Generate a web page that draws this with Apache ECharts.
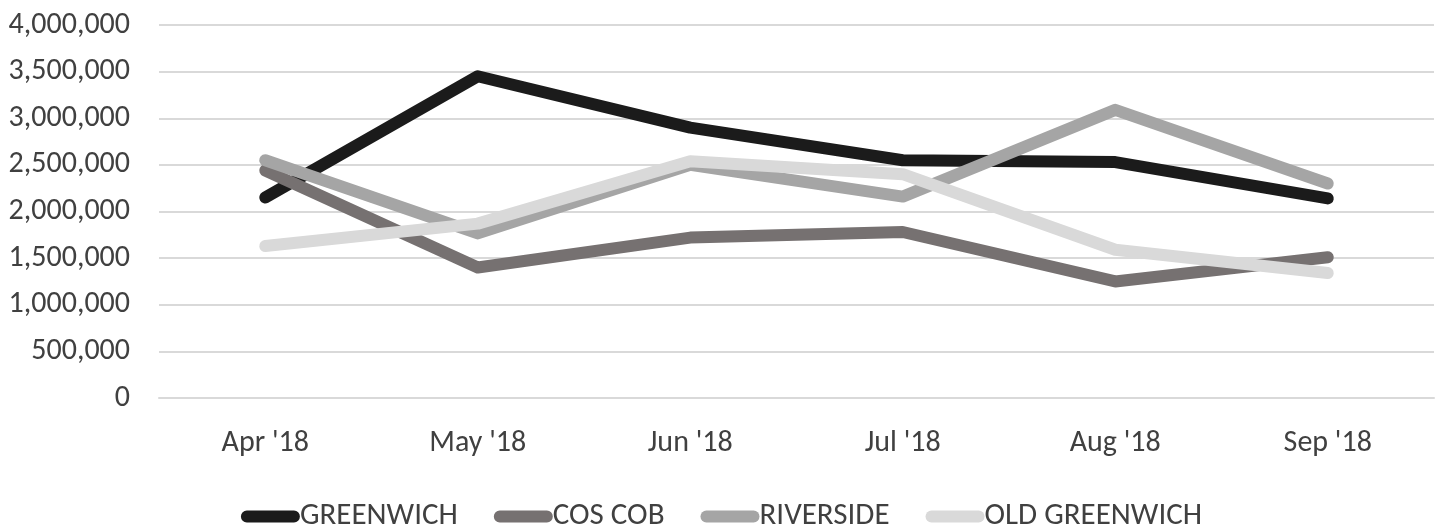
<!DOCTYPE html>
<html>
<head>
<meta charset="utf-8">
<script src="https://cdn.jsdelivr.net/npm/echarts@6/dist/echarts.min.js"></script>
<style>
html,body{margin:0;padding:0;background:#fff;}
#chart{width:1443px;height:529px;}
</style>
</head>
<body>
<div id="chart"></div>
<script>
const categories = ["Apr '18", "May '18", "Jun '18", "Jul '18", "Aug '18", "Sep '18"];
const seriesNames = ["GREENWICH", "COS COB", "RIVERSIDE", "OLD GREENWICH"];
const greenwich = [2150000, 3450000, 2900000, 2550000, 2530000, 2140000];
const cosCob = [2440000, 1400000, 1720000, 1780000, 1250000, 1510000];
const riverside = [2550000, 1765000, 2500000, 2160000, 3090000, 2300000];
const oldGreenwich = [1630000, 1870000, 2540000, 2400000, 1590000, 1340000];
const colors = ["#1b1b1b", "#767171", "#a5a5a5", "#d9d9d9"];

const fontFamily = "Carlito, 'Liberation Sans Narrow', 'Open Sans', sans-serif";
const textColor = "#404040";
const allData = [greenwich, cosCob, riverside, oldGreenwich];

const chart = echarts.init(document.getElementById('chart'));
chart.setOption({
  animation: false,
  backgroundColor: '#ffffff',
  textStyle: { fontFamily: fontFamily },
  grid: { left: 159, right: 9, top: 25, bottom: 131, containLabel: false },
  legend: {
    top: 496,
    left: 'center',
    icon: 'path://M6,0 L54,0 A6,6 0 0 1 54,12 L6,12 A6,6 0 0 1 6,0 Z',
    itemWidth: 59,
    itemHeight: 12,
    itemGap: 36,
    textStyle: { color: textColor, fontSize: 31, fontFamily: fontFamily, padding: [0, 0, 0, -5] },
    data: seriesNames
  },
  xAxis: {
    type: 'category',
    data: categories,
    boundaryGap: true,
    axisLine: { show: true, lineStyle: { color: '#d9d9d9', width: 2 } },
    axisTick: { show: false },
    axisLabel: { color: textColor, fontSize: 30, margin: 30, fontFamily: fontFamily }
  },
  yAxis: {
    type: 'value',
    min: 0,
    max: 4000000,
    interval: 500000,
    axisLine: { show: false },
    axisTick: { show: false },
    splitLine: { lineStyle: { color: '#d9d9d9', width: 2 } },
    axisLabel: {
      color: textColor, fontSize: 30, margin: 29, fontFamily: fontFamily,
      formatter: v => v.toLocaleString('en-US')
    }
  },
  series: seriesNames.map((name, i) => ({
    name: name,
    type: 'line',
    data: allData[i],
    showSymbol: false,
    symbol: 'none',
    color: colors[i],
    lineStyle: { width: 12, color: colors[i], cap: 'round', join: 'round' },
    itemStyle: { color: colors[i] }
  }))
});
</script>
</body>
</html>
